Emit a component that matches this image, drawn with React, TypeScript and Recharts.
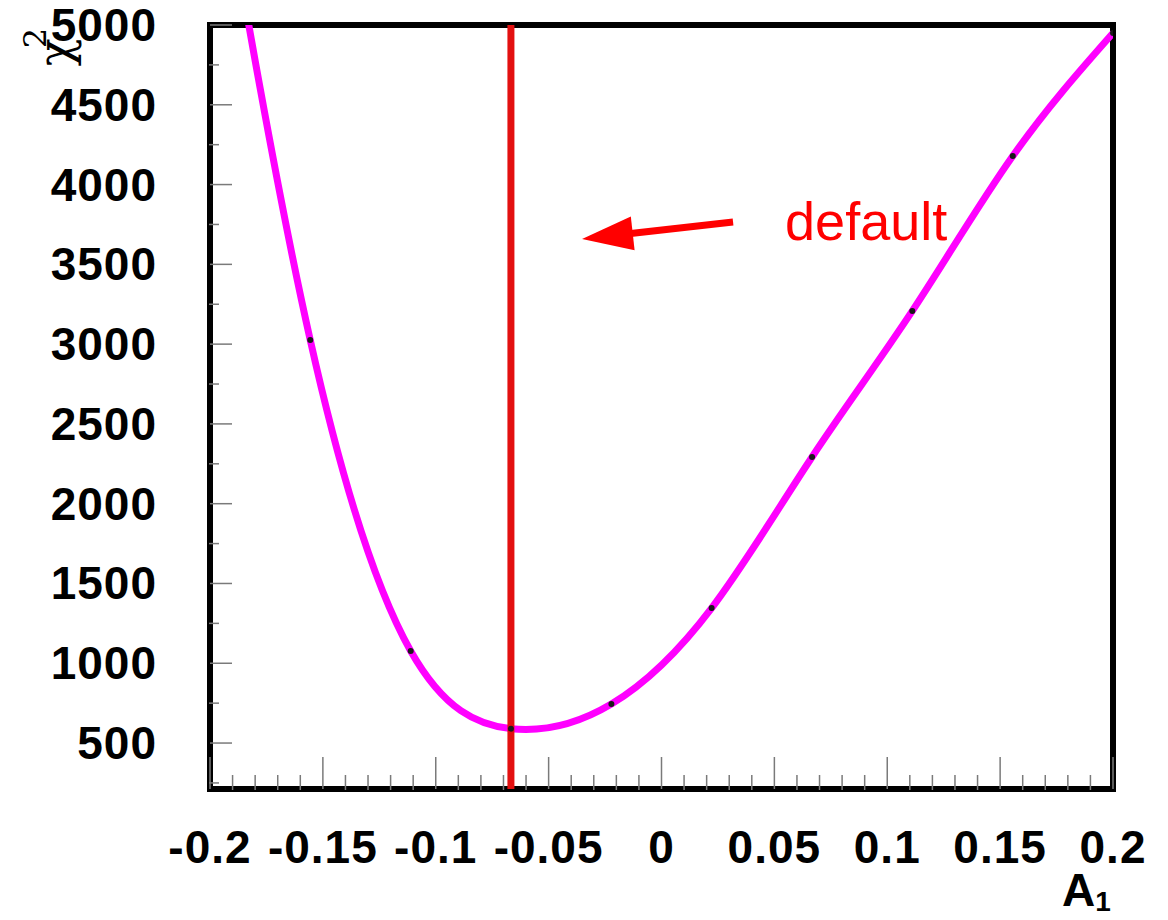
import React from 'react';
import { LineChart, Line, XAxis, YAxis, ReferenceLine, ReferenceArea } from 'recharts';

// scan points (A1 -> chi2), curve drawn as smooth spline through them
const a1Values = [-0.2, -0.1556, -0.1111, -0.0667, -0.0222, 0.0222, 0.0667, 0.1111, 0.1556, 0.2];
const chi2Values = [6400, 3026, 1077, 590, 745, 1346, 2293, 3208, 4179, 4950];

const defaultA1 = -0.0667;
const arrowTail = { x: 0.0317, y: 3765 };
const arrowTip = { x: -0.0352, y: 3659 };

const xDomain = [-0.2, 0.2];
const yDomain = [212, 5000];

const xMajorTicks = [-0.2, -0.15, -0.1, -0.05, 0, 0.05, 0.1, 0.15, 0.2];
const xMinorTicks = [
  -0.19, -0.18, -0.17, -0.16, -0.14, -0.13, -0.12, -0.11, -0.09, -0.08, -0.07, -0.06,
  -0.04, -0.03, -0.02, -0.01, 0.01, 0.02, 0.03, 0.04, 0.06, 0.07, 0.08, 0.09,
  0.11, 0.12, 0.13, 0.14, 0.16, 0.17, 0.18, 0.19,
];
const yMajorTicks = [500, 1000, 1500, 2000, 2500, 3000, 3500, 4000, 4500, 5000];
const yMinorTicks = [250, 750, 1250, 1750, 2250, 2750, 3250, 3750, 4250, 4750];

const data = a1Values.map((a, i) => ({ a1: a, chi2: chi2Values[i] }));

const FONT = '"Liberation Sans", Arial, Helvetica, sans-serif';
const TICK_GRAY = '#7a7a7a';

const NoLabel = () => <g />;

const XTick = (props: any) => (
  <text
    x={props.x}
    y={props.y}
    textAnchor="middle"
    fontFamily={FONT}
    fontWeight="bold"
    fontSize={46}
    letterSpacing={1}
    fill="#000"
  >
    {String(props.payload.value)}
  </text>
);

const YTick = (props: any) => (
  <text
    x={props.x}
    y={props.y}
    dy={16}
    textAnchor="end"
    fontFamily={FONT}
    fontWeight="bold"
    fontSize={46}
    letterSpacing={1}
    fill="#000"
  >
    {String(props.payload.value)}
  </text>
);

const Arrow = (p: any) => {
  const { x1, y1, x2, y2 } = p;
  const dx = x2 - x1;
  const dy = y2 - y1;
  const len = Math.hypot(dx, dy) || 1;
  const ux = dx / len;
  const uy = dy / len;
  const head = 51;
  const hw = 17;
  const bx = x2 - ux * head;
  const by = y2 - uy * head;
  return (
    <g>
      <line x1={x1} y1={y1} x2={bx + ux * 2} y2={by + uy * 2} stroke="#ff0000" strokeWidth={7} />
      <polygon
        points={`${x2},${y2} ${bx - uy * hw},${by + ux * hw} ${bx + uy * hw},${by - ux * hw}`}
        fill="#ff0000"
      />
      <text x={x1 + 52} y={y1 + 18} fontFamily={FONT} fontSize={54} fill="#ff0000">
        default
      </text>
    </g>
  );
};

const YTitle = (p: any) => {
  const vb = p.viewBox || { x: 0, y: 0 };
  return (
    <text
      transform={`translate(${vb.x - 138}, ${vb.y + 3}) rotate(-90)`}
      textAnchor="end"
      fontFamily='"DejaVu Serif", serif'
      fontSize={46}
      fill="#000"
    >
      χ<tspan dx={-10} dy={-25} fontSize={32}>2</tspan>
    </text>
  );
};

const XTitle = (p: any) => {
  const vb = p.viewBox || { x: 0, y: 0, width: 0 };
  return (
    <text x={vb.x + vb.width - 51} y={vb.y + 117} fontFamily={FONT} fontWeight="bold" fontSize={46} fill="#000">
      A<tspan dy={5} fontSize={28}>1</tspan>
    </text>
  );
};

export default function App() {
  return (
    <div style={{ width: 1168, height: 920, background: '#fff' }}>
      <style>{'body{margin:0}'}</style>
      <LineChart width={1168} height={920} data={data} margin={{ top: 25, right: 55, bottom: 129, left: 208 }}>
        <XAxis
          xAxisId="minor"
          type="number"
          dataKey="a1"
          domain={xDomain}
          allowDataOverflow
          ticks={xMinorTicks}
          interval={0}
          height={1}
          axisLine={false}
          tickSize={-15}
          tickLine={{ stroke: TICK_GRAY, strokeWidth: 1.5 }}
          tick={<NoLabel />}
        />
        <XAxis
          xAxisId="major"
          type="number"
          dataKey="a1"
          domain={xDomain}
          allowDataOverflow
          ticks={xMajorTicks}
          interval={0}
          height={1}
          axisLine={false}
          tickSize={-32}
          tickMargin={106}
          tickLine={{ stroke: TICK_GRAY, strokeWidth: 1.5 }}
          tick={<XTick />}
          label={<XTitle />}
        />
        <YAxis
          yAxisId="minor"
          type="number"
          domain={yDomain}
          allowDataOverflow
          ticks={yMinorTicks}
          interval={0}
          width={1}
          axisLine={false}
          tickSize={-10}
          tickLine={{ stroke: TICK_GRAY, strokeWidth: 1.5 }}
          tick={<NoLabel />}
        />
        <YAxis
          yAxisId="major"
          type="number"
          domain={yDomain}
          allowDataOverflow
          ticks={yMajorTicks}
          interval={0}
          width={1}
          axisLine={false}
          tickSize={-22}
          tickMargin={75}
          tickLine={{ stroke: TICK_GRAY, strokeWidth: 1.5 }}
          tick={<YTick />}
          label={<YTitle />}
        />
        <Line
          xAxisId="major"
          yAxisId="major"
          type="natural"
          dataKey="chi2"
          stroke="#ff00ff"
          strokeWidth={7}
          dot={{ r: 3, fill: '#1a1a1a', stroke: 'none' }}
          activeDot={false}
          isAnimationActive={false}
        />
        <ReferenceLine xAxisId="major" yAxisId="major" x={defaultA1} stroke="#e31010" strokeWidth={7} />
        <ReferenceLine
          xAxisId="major"
          yAxisId="major"
          segment={[arrowTail, arrowTip]}
          shape={<Arrow />}
        />
        <ReferenceArea
          xAxisId="major"
          yAxisId="major"
          x1={xDomain[0]}
          x2={xDomain[1]}
          y1={yDomain[0]}
          y2={yDomain[1]}
          fill="none"
          fillOpacity={0}
          stroke="#000"
          strokeWidth={6}
        />
      </LineChart>
    </div>
  );
}
